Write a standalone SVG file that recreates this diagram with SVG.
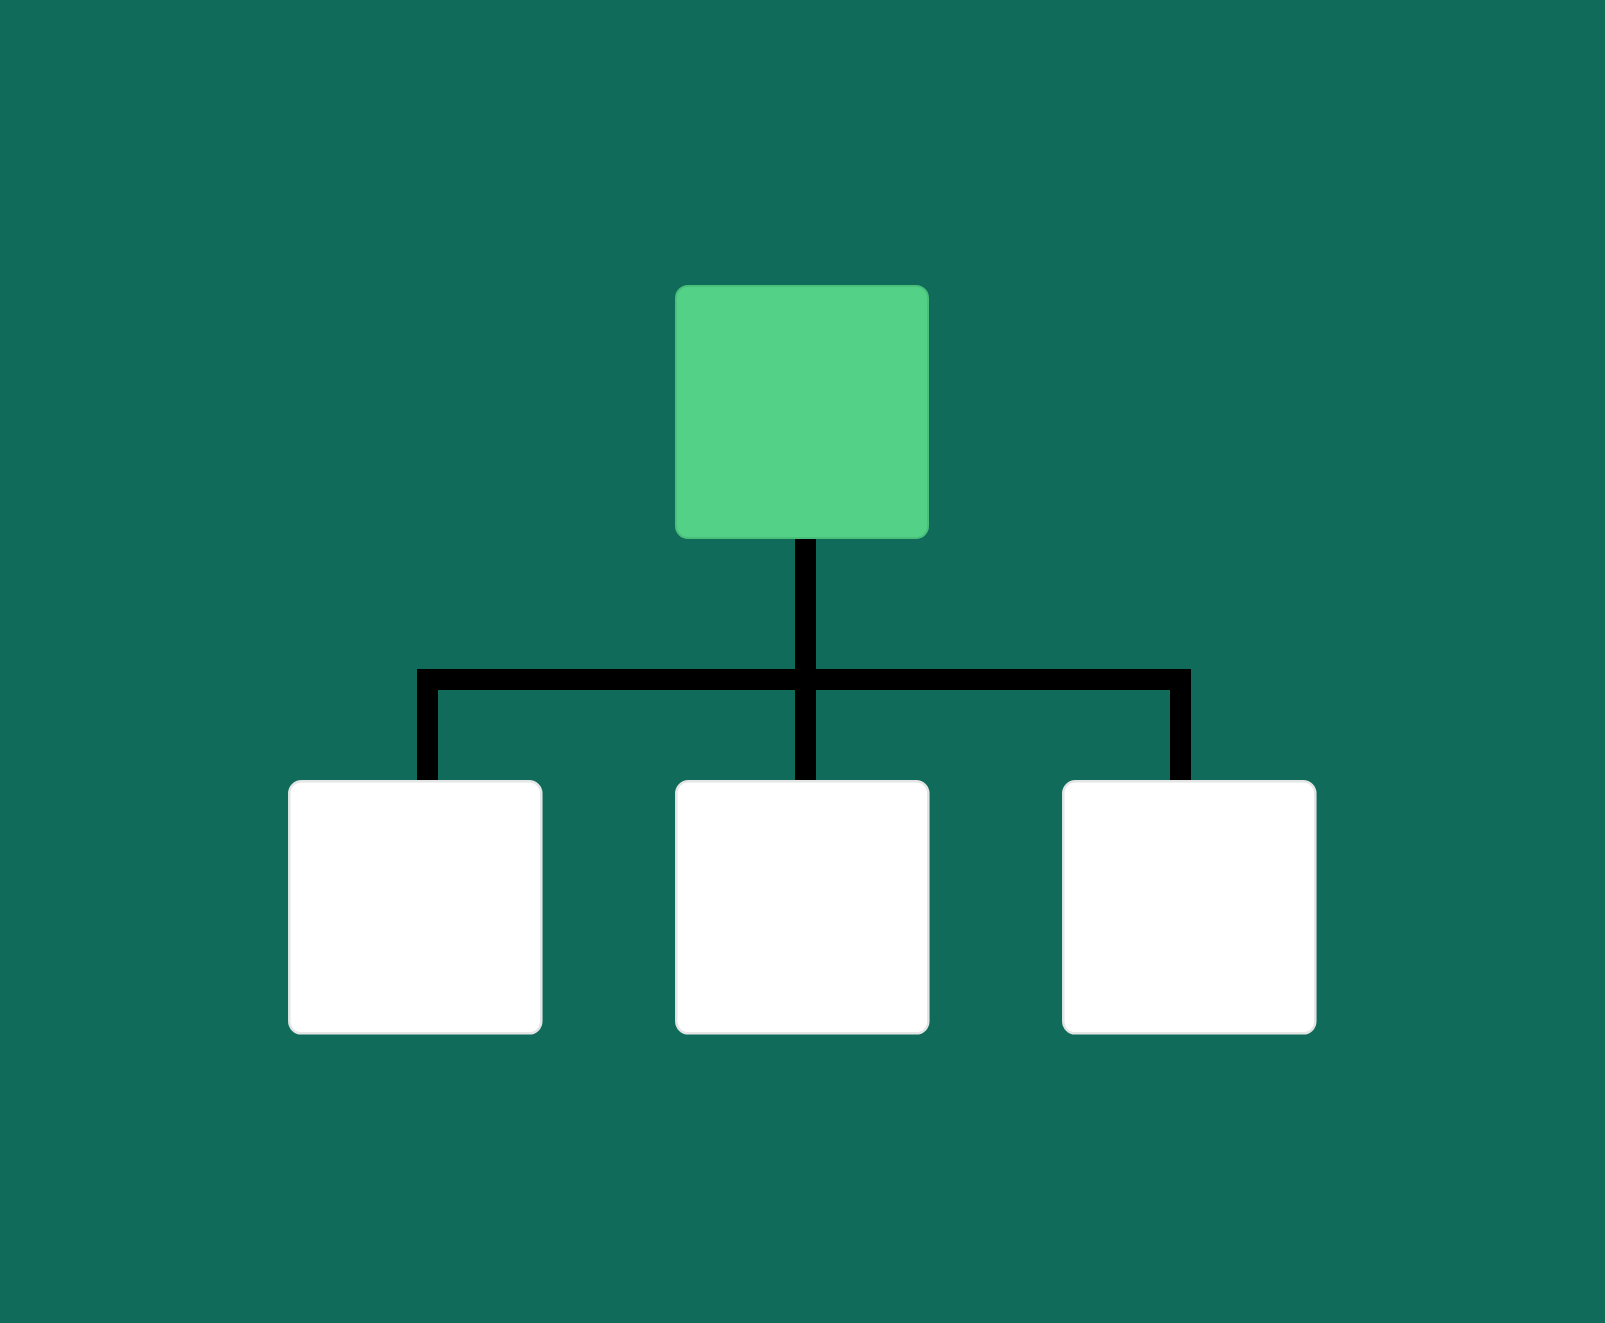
<svg xmlns="http://www.w3.org/2000/svg" width="1605" height="1323" viewBox="0 0 1605 1323">
  <style>
    .bg { fill: #106b5a; }
    .root { fill: #53d287; stroke: #4bc07b; stroke-width: 2; }
    .leaf { fill: #ffffff; stroke: #e4e6e6; stroke-width: 2.5; }
    .wire { fill: none; stroke: #000000; stroke-width: 21; stroke-linejoin: miter; stroke-linecap: butt; }
  </style>
  <rect class="bg" x="0" y="0" width="1605" height="1323"/>
  <g id="connectors">
    <path class="wire" d="M805.5,538 V781"/>
    <path class="wire" d="M427.5,781 V679.5 H1180.5 V781"/>
  </g>
  <g id="node-root">
    <rect class="root" x="676" y="286" width="252" height="252" rx="12" ry="12"/>
  </g>
  <g id="node-left">
    <rect class="leaf" x="289.3" y="781.3" width="252" height="252" rx="12" ry="12"/>
  </g>
  <g id="node-middle">
    <rect class="leaf" x="676.3" y="781.3" width="252" height="252" rx="12" ry="12"/>
  </g>
  <g id="node-right">
    <rect class="leaf" x="1063.3" y="781.3" width="252" height="252" rx="12" ry="12"/>
  </g>
</svg>
